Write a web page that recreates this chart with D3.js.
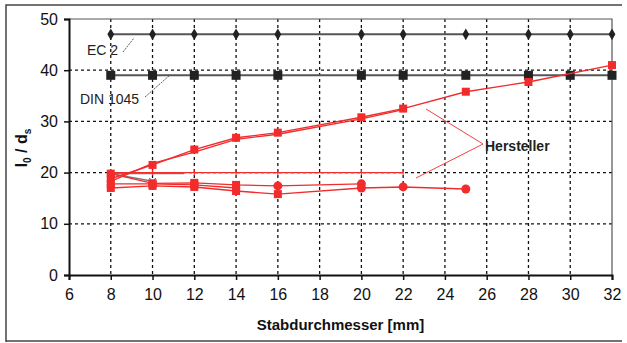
<!DOCTYPE html>
<html>
<head>
<meta charset="utf-8">
<script src="https://cdn.jsdelivr.net/npm/d3@7/dist/d3.min.js"></script>
<style>
  body { margin: 0; background: #fff; }
  svg { font-family: "Liberation Sans", Arial, sans-serif; }
</style>
</head>
<body>
<svg id="chart" width="627" height="343"></svg>
<script>
// x values (Stabdurchmesser in mm)
const xTicks = [6, 8, 10, 12, 14, 16, 18, 20, 22, 24, 26, 28, 30, 32];
const yTicks = [0, 10, 20, 30, 40, 50];
const normX = [8, 10, 12, 14, 16, 20, 22, 25, 28, 30, 32];

// codes
const ec2 = [47, 47, 47, 47, 47, 47, 47, 47, 47, 47, 47];
const din1045 = [39, 39, 39, 39, 39, 39, 39, 39, 39, 39, 39];

// manufacturers (Hersteller)
const herstA = [[8, 18.8], [10, 21.5], [12, 24.5], [14, 26.8], [16, 27.8], [20, 30.8], [22, 32.5], [25, 35.8], [28, 37.7], [32, 41]];
const herstB = [[8, 18.3], [10, 21.8], [12, 24.0], [14, 26.5], [16, 27.5], [20, 30.5], [22, 32.3]];
const herstC = [[8, 20], [10, 20], [12, 20], [14, 20], [16, 20], [20, 20], [22, 20]];
const herstD = [[8, 19.8], [10, 17.9], [12, 18.0], [14, 17.6], [16, 17.4], [20, 17.8]];
const herstE = [[8, 17.0], [10, 17.4], [12, 17.2], [14, 16.4], [16, 15.8], [20, 17.0], [22, 17.2], [25, 16.8]];
const herstF = [[8, 17.8], [10, 17.8], [12, 17.6], [14, 17.0]];
const greyRef = [[8, 19.8], [10, 18.3]];
const greyFlat = [[8, 19.8], [11.5, 19.8]];

const svg = d3.select('#chart');
const red = '#f22b2b';
const margin = {left: 69, right: 15, top: 19, bottom: 68};
const width = 627 - margin.left - margin.right,
      height = 343 - margin.top - margin.bottom;

// outer frame
svg.append('path')
    .attr('d', 'M6,342 L6,5 L622,5 M6,341 L622,341')
    .attr('fill', 'none')
    .attr('stroke', '#444')
    .attr('stroke-width', 1.5);

const x = d3.scaleLinear().domain([6, 32]).range([0, width]);
const y = d3.scaleLinear().domain([0, 50]).range([height, 0]);

const g = svg.append('g')
    .attr('transform', `translate(${margin.left},${margin.top})`);

// grid
g.selectAll('.vgrid')
    .data(xTicks.filter(d => d > 6 && d < 32))
    .enter().append('line')
    .attr('x1', d => x(d)).attr('x2', d => x(d))
    .attr('y1', 0).attr('y2', height)
    .attr('stroke', '#111').attr('stroke-width', 1.3)
    .attr('stroke-dasharray', '3,3');
g.selectAll('.hgrid')
    .data(yTicks.filter(d => d > 0 && d < 50))
    .enter().append('line')
    .attr('x1', 0).attr('x2', width)
    .attr('y1', d => y(d)).attr('y2', d => y(d))
    .attr('stroke', '#111').attr('stroke-width', 1.3)
    .attr('stroke-dasharray', '3,3');

// top and right border
g.append('path')
    .attr('d', `M0,0 L${width},0 L${width},${height}`)
    .attr('fill', 'none').attr('stroke', '#555').attr('stroke-width', 1.2);

// axes
const xAxis = g.append('g')
    .attr('transform', `translate(0,${height})`)
    .call(d3.axisBottom(x).tickValues(xTicks).tickSize(5).tickPadding(9));
const yAxis = g.append('g')
    .call(d3.axisLeft(y).tickValues(yTicks).tickSize(5).tickPadding(6));
[xAxis, yAxis].forEach(a => {
    a.select('.domain').attr('stroke', '#111').attr('stroke-width', 2);
    a.selectAll('.tick line').attr('stroke', '#111').attr('stroke-width', 1.5);
    a.selectAll('text').attr('font-size', 16).attr('fill', '#111')
        .attr('font-family', '"Liberation Sans", Arial, sans-serif');
});

const line = d3.line().x(d => x(d[0])).y(d => y(d[1]));

// code lines
const ec2Data = normX.map((d, i) => [d, ec2[i]]);
const dinData = normX.map((d, i) => [d, din1045[i]]);

g.append('path').datum(ec2Data).attr('d', line)
    .attr('fill', 'none').attr('stroke', '#555').attr('stroke-width', 2);
g.selectAll('.ec2').data(ec2Data).enter().append('path')
    .attr('d', d3.symbol(d3.symbolDiamond, 40))
    .attr('transform', d => `translate(${x(d[0])},${y(d[1])})`)
    .attr('fill', '#222');

g.append('path').datum(dinData).attr('d', line)
    .attr('fill', 'none').attr('stroke', '#555').attr('stroke-width', 2);
g.selectAll('.din').data(dinData).enter().append('rect')
    .attr('x', d => x(d[0]) - 4.5).attr('y', d => y(d[1]) - 4.5)
    .attr('width', 9).attr('height', 9)
    .attr('fill', '#222');

// grey reference pieces
[greyRef, greyFlat].forEach(s => {
    g.append('path').datum(s).attr('d', line)
        .attr('fill', 'none').attr('stroke', '#777').attr('stroke-width', 1.5);
});
g.append('path')
    .attr('d', d3.symbol(d3.symbolX, 30))
    .attr('transform', `translate(${x(greyRef[1][0])},${y(greyRef[1][1])})`)
    .attr('stroke', '#555').attr('fill', 'none');

// manufacturer lines (marker: function of the point)
const series = [
    {data: herstA, mark: () => 'square'},
    {data: herstB, mark: () => 'none'},
    {data: herstC, mark: () => 'tick'},
    {data: herstD, mark: d => d[0] >= 16 ? 'circle' : 'square'},
    {data: herstE, mark: d => d[0] >= 20 ? 'circle' : 'square'},
    {data: herstF, mark: () => 'square'}
];
series.forEach(s => {
    g.append('path').datum(s.data).attr('d', line)
        .attr('fill', 'none').attr('stroke', red).attr('stroke-width', 1.4);
    const pts = g.append('g');
    s.data.forEach(d => {
        const m = s.mark(d);
        if (m === 'square') {
            pts.append('rect')
                .attr('x', x(d[0]) - 4).attr('y', y(d[1]) - 4)
                .attr('width', 8).attr('height', 8).attr('fill', red);
        } else if (m === 'circle') {
            pts.append('circle')
                .attr('cx', x(d[0])).attr('cy', y(d[1]))
                .attr('r', 4.5).attr('fill', red);
        } else if (m === 'tick') {
            pts.append('line')
                .attr('x1', x(d[0])).attr('x2', x(d[0]))
                .attr('y1', y(d[1]) - 3).attr('y2', y(d[1]) + 3)
                .attr('stroke', red).attr('stroke-width', 1);
        }
    });
});

// labels and leader lines
svg.append('text').attr('x', 87).attr('y', 55)
    .attr('font-size', 14).attr('fill', '#222').text('EC 2');
svg.append('line').attr('x1', 123).attr('y1', 52).attr('x2', 134).attr('y2', 38)
    .attr('stroke', '#333').attr('stroke-width', 0.8).attr('stroke-dasharray', '2,1');

svg.append('text').attr('x', 80).attr('y', 104)
    .attr('font-size', 14).attr('fill', '#222').text('DIN 1045');
svg.append('line').attr('x1', 145).attr('y1', 97).attr('x2', 170).attr('y2', 75)
    .attr('stroke', '#333').attr('stroke-width', 0.8).attr('stroke-dasharray', '2,1');

svg.append('text').attr('x', 485).attr('y', 151)
    .attr('font-size', 14).attr('font-weight', 'bold').attr('fill', '#222').text('Hersteller');
svg.append('path')
    .attr('d', 'M426,109 L483,144 L416,178')
    .attr('fill', 'none').attr('stroke', red).attr('stroke-width', 0.9);

// axis titles
svg.append('text')
    .attr('x', margin.left + width / 2).attr('y', 330)
    .attr('text-anchor', 'middle')
    .attr('font-size', 15).attr('font-weight', 'bold').attr('fill', '#111')
    .text('Stabdurchmesser [mm]');

const yTitle = svg.append('text')
    .attr('transform', 'translate(27,148) rotate(-90)')
    .attr('text-anchor', 'middle')
    .attr('font-size', 16).attr('font-weight', 'bold').attr('fill', '#111');
yTitle.append('tspan').text('l');
yTitle.append('tspan').attr('font-size', 10).attr('dy', 4).text('0');
yTitle.append('tspan').attr('dy', -4).text(' / d');
yTitle.append('tspan').attr('font-size', 10).attr('dy', 4).text('s');
</script>
</body>
</html>
